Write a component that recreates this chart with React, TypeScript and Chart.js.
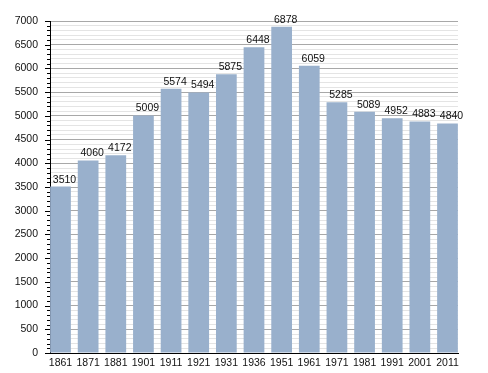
import React, { useEffect, useRef } from "react";
import { Chart, registerables } from "chart.js";

Chart.register(...registerables);

const years = ["1861", "1871", "1881", "1901", "1911", "1921", "1931", "1936", "1951", "1961", "1971", "1981", "1991", "2001", "2011"];
const population = [3510, 4060, 4172, 5009, 5574, 5494, 5875, 6448, 6878, 6059, 5285, 5089, 4952, 4883, 4840];
const yMax = 7000;
const majorStep = 500;
const minorStep = 100;

const FONT = "'Liberation Sans', Arial, sans-serif";

const decorPlugin = {
  id: "decor",
  afterDraw(chart: any) {
    const ctx = chart.ctx;
    const y = chart.scales.y;
    const area = chart.chartArea;
    ctx.save();
    ctx.strokeStyle = "#000";
    ctx.lineWidth = 1;
    y.ticks.forEach((t: any) => {
      const py = Math.round(y.getPixelForValue(t.value)) + 0.5;
      const len = t.value % majorStep === 0 ? 5 : 3;
      ctx.beginPath();
      ctx.moveTo(area.left - len, py);
      ctx.lineTo(area.left, py);
      ctx.stroke();
    });
    ctx.fillStyle = "#111";
    ctx.font = `10.5px ${FONT}`;
    ctx.textAlign = "center";
    ctx.textBaseline = "alphabetic";
    const meta = chart.getDatasetMeta(0);
    meta.data.forEach((bar: any, i: number) => {
      ctx.fillText(String(population[i]), bar.x + 4, bar.y - 4);
    });
    ctx.restore();
  },
};

export default function App() {
  const ref = useRef<HTMLCanvasElement | null>(null);
  useEffect(() => {
    document.body.style.margin = "0";
    const canvas = ref.current!;
    const chart = new Chart(canvas, {
      type: "bar",
      data: {
        datasets: [
          {
            data: population.map((v, i) => ({ x: i, y: v })),
            backgroundColor: "#99b0cc",
            borderWidth: 0,
            categoryPercentage: 1,
            barPercentage: 0.75,
          },
        ],
      },
      options: {
        animation: false,
        responsive: false,
        layout: { padding: { left: 0, right: 30, top: 21, bottom: 0 } },
        plugins: { legend: { display: false }, tooltip: { enabled: false } },
        scales: {
          x: {
            type: "linear",
            min: -0.38,
            max: 14.38,
            offset: false,
            grid: { display: false, drawTicks: false },
            border: { display: true, color: "#000", width: 1 },
            ticks: {
              stepSize: 1,
              includeBounds: false,
              autoSkip: false,
              maxRotation: 0,
              padding: 4,
              color: "#111",
              font: { family: FONT, size: 10.5 },
              callback: (v: any) => (Number.isInteger(v) && years[v] !== undefined ? years[v] : ""),
            },
            afterFit: (s: any) => {
              s.height = 20;
            },
          },
          y: {
            min: 0,
            max: yMax,
            grid: {
              drawTicks: false,
              color: (c: any) => (c.tick && c.tick.value % majorStep === 0 ? "#a8a8a8" : "#e4e4e4"),
              lineWidth: 1,
            },
            border: { display: true, color: "#000", width: 1 },
            ticks: {
              stepSize: minorStep,
              autoSkip: false,
              padding: 12,
              color: "#111",
              font: { family: FONT, size: 10.5 },
              callback: (v: any) => (v % majorStep === 0 ? String(v) : ""),
            },
            afterFit: (s: any) => {
              s.width = 50;
            },
          },
        },
      },
      plugins: [decorPlugin],
    } as any);
    return () => chart.destroy();
  }, []);
  return <canvas ref={ref} width={488} height={373} style={{ display: "block" }} />;
}
